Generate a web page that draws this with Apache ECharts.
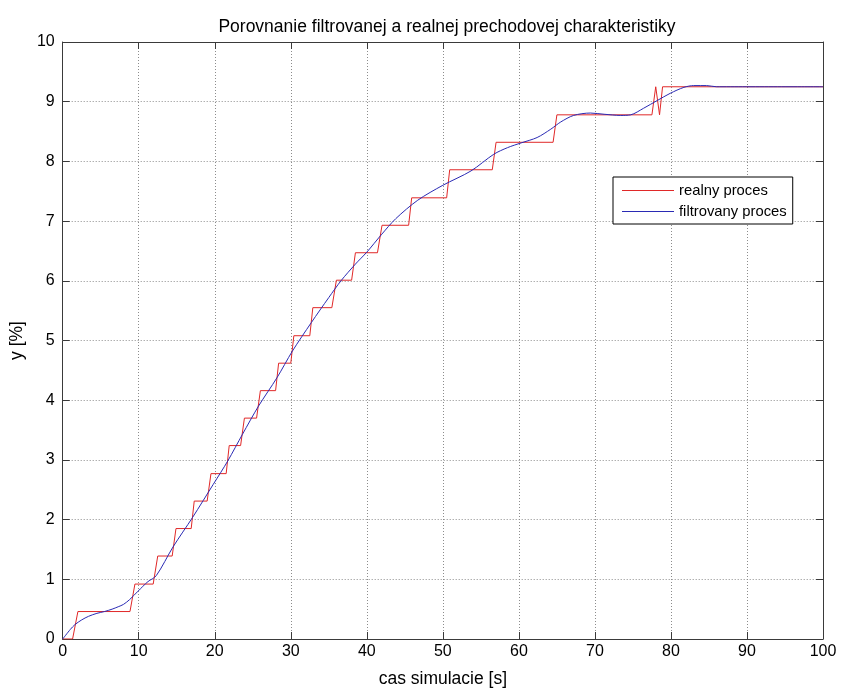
<!DOCTYPE html>
<html>
<head>
<meta charset="utf-8">
<script src="https://cdn.jsdelivr.net/npm/echarts@6/dist/echarts.min.js"></script>
<style>
html,body{margin:0;padding:0;background:#fff;}
#chart{width:841px;height:693px;}
</style>
</head>
<body>
<div id="chart"></div>
<script>
// ---- data ----
var titleText = 'Porovnanie filtrovanej a realnej prechodovej charakteristiky';
var xName = 'cas simulacie [s]';
var yName = 'y [%]';
var seriesNames = ['realny proces', 'filtrovany proces'];

var realT = [0, 1.3, 2.0, 8.85, 9.5, 11.9, 12.5, 14.4, 14.9, 16.9, 17.3, 19.0, 19.5, 21.5, 21.9, 23.4, 23.9, 25.5, 26.0, 28.0, 28.4, 30.0, 30.4, 32.5, 32.9, 35.4, 36.0, 38.0, 38.5, 41.4, 42.0, 45.5, 45.9, 50.5, 50.9, 56.5, 57.0, 64.5, 65.0, 77.5, 78.0, 78.5, 78.9, 100];
var realV = [0, 0, 0.46, 0.46, 0.92, 0.92, 1.39, 1.39, 1.85, 1.85, 2.31, 2.31, 2.77, 2.77, 3.24, 3.24, 3.70, 3.70, 4.16, 4.16, 4.62, 4.62, 5.08, 5.08, 5.55, 5.55, 6.01, 6.01, 6.47, 6.47, 6.93, 6.93, 7.39, 7.39, 7.86, 7.86, 8.32, 8.32, 8.78, 8.78, 9.25, 8.78, 9.25, 9.25];

var filtT = [0, 1, 1.6, 2.5, 3.4, 4.5, 5.5, 6.5, 7.3, 8.0, 8.8, 9.9, 11.2, 12.3, 14.5, 17.1, 19.8, 21.7, 23.65, 25.75, 28.2, 30.2, 32.7, 35.0, 36.6, 38.5, 40.0, 41.9, 43.8, 46.7, 50.0, 53.7, 56.7, 58.5, 60.3, 62.4, 64.2, 65.5, 67.2, 69.4, 71.2, 73.4, 74.7, 76.4, 78.2, 79.9, 81.7, 83.0, 84.7, 86.0, 100];
var filtV = [0, 0.16, 0.24, 0.32, 0.38, 0.43, 0.46, 0.50, 0.54, 0.58, 0.66, 0.80, 0.96, 1.06, 1.54, 2.04, 2.59, 2.98, 3.43, 3.90, 4.38, 4.82, 5.30, 5.72, 6.00, 6.28, 6.48, 6.77, 7.04, 7.35, 7.60, 7.84, 8.12, 8.23, 8.31, 8.40, 8.54, 8.66, 8.77, 8.81, 8.79, 8.77, 8.78, 8.89, 9.02, 9.14, 9.24, 9.27, 9.27, 9.25, 9.25];

var xTicks = [0, 10, 20, 30, 40, 50, 60, 70, 80, 90, 100];
var yTicks = [0, 1, 2, 3, 4, 5, 6, 7, 8, 9, 10];

// ---- build ----
function pairs(xs, ys) { return xs.map(function (x, i) { return [x, ys[i]]; }); }

var FONT = 'Liberation Sans, Arial, sans-serif';
var axisCol = '#3a3a3a';

function xAx(pos, showLabel) {
  return {
    type: 'value', position: pos, min: xTicks[0], max: xTicks[xTicks.length - 1], interval: 10,
    name: showLabel ? xName : '', nameLocation: 'middle', nameGap: 31,
    nameTextStyle: { fontFamily: FONT, fontSize: 17.5, color: '#000' },
    axisLine: { show: true, onZero: false, lineStyle: { color: axisCol, width: 1 } },
    axisTick: { show: true, inside: true, length: 7, lineStyle: { color: axisCol } },
    axisLabel: { show: showLabel, fontFamily: FONT, fontSize: 16, color: '#000', margin: 5 },
    splitLine: { show: showLabel, lineStyle: { color: '#8c8c8c', type: [1, 2], width: 1 } }
  };
}
function yAx(pos, showLabel) {
  return {
    type: 'value', position: pos, min: yTicks[0], max: yTicks[yTicks.length - 1], interval: 1,
    name: showLabel ? yName : '', nameLocation: 'middle', nameGap: 32,
    nameTextStyle: { fontFamily: FONT, fontSize: 17.5, color: '#000' },
    axisLine: { show: true, onZero: false, lineStyle: { color: axisCol, width: 1 } },
    axisTick: { show: true, inside: true, length: 7, lineStyle: { color: axisCol } },
    axisLabel: { show: showLabel, fontFamily: FONT, fontSize: 16, color: '#000', margin: 8 },
    splitLine: { show: showLabel, lineStyle: { color: '#8c8c8c', type: [1, 2], width: 1 } }
  };
}

var chart = echarts.init(document.getElementById('chart'), null, { renderer: 'canvas' });
chart.setOption({
  animation: false,
  backgroundColor: '#ffffff',
  title: {
    text: titleText, left: 442, top: 13, textAlign: 'center',
    textStyle: { fontFamily: FONT, fontSize: 17.5, fontWeight: 'normal', color: '#000' }
  },
  grid: { left: 61, top: 42, width: 762, height: 601, containLabel: false },
  xAxis: [xAx('bottom', true), xAx('top', false)],
  yAxis: [yAx('left', true), yAx('right', false)],
  legend: {
    left: 613, top: 177, orient: 'vertical',
    backgroundColor: '#fff', borderColor: '#000', borderWidth: 1,
    padding: [6, 6, 5, 9], itemGap: 6, itemWidth: 52, itemHeight: 1,
    textStyle: { fontFamily: FONT, fontSize: 14.8, color: '#000', padding: [0, 0, 0, 0] },
    data: [
      { name: seriesNames[0], icon: 'rect' },
      { name: seriesNames[1], icon: 'rect' }
    ]
  },
  series: [
    {
      name: seriesNames[0], type: 'line', xAxisIndex: 0, yAxisIndex: 0,
      data: pairs(realT, realV), symbol: 'none', showSymbol: false,
      lineStyle: { color: '#e02828', width: 1 }, itemStyle: { color: '#e02828' }, z: 2
    },
    {
      name: seriesNames[1], type: 'line', xAxisIndex: 0, yAxisIndex: 0,
      data: pairs(filtT, filtV), symbol: 'none', showSymbol: false, smooth: 0.3,
      lineStyle: { color: '#2a2ab4', width: 1 }, itemStyle: { color: '#2a2ab4' }, z: 3
    }
  ]
});
</script>
</body>
</html>
